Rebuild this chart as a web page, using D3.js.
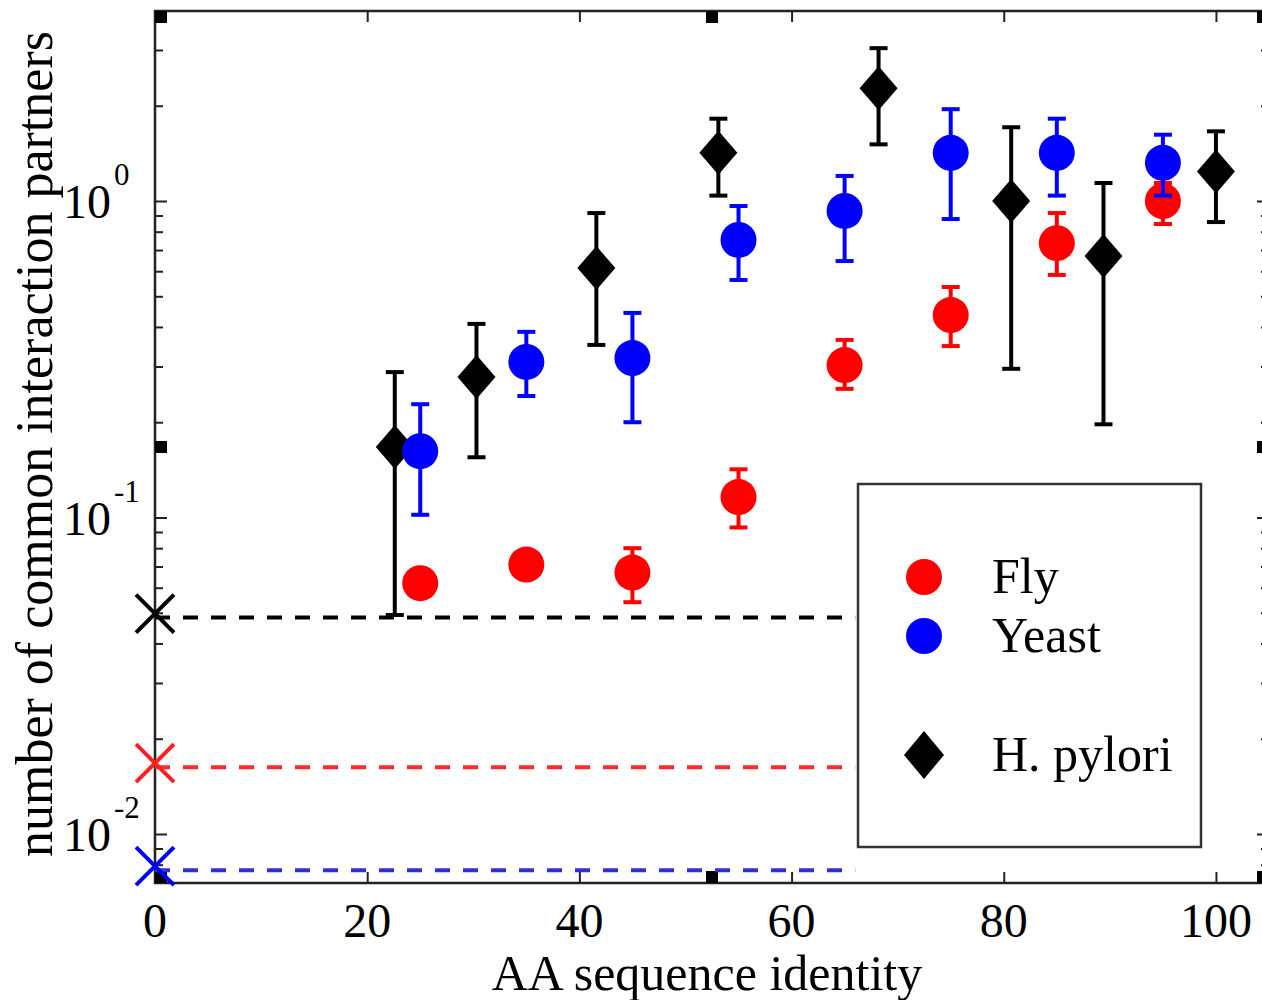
<!DOCTYPE html>
<html>
<head>
<meta charset="utf-8">
<script src="https://cdnjs.cloudflare.com/ajax/libs/d3/7.8.5/d3.min.js"></script>
<style>
  body { margin: 0; background: #fff; }
  svg text { font-family: "Liberation Serif", "DejaVu Serif", serif; fill: #000; }
</style>
</head>
<body>
<div id="chart"></div>
<script>

var xTicks = [0, 20, 40, 60, 80, 100]
var yMajor = [0.01, 0.1, 1]
var yExp = ['-2', '-1', '0']

var flyX  = [25, 35, 45, 55, 65, 75, 85, 95]
var flyY  = [0.062, 0.071, 0.067, 0.116, 0.303, 0.436, 0.736, 1.0]
var flyLo = [0.058, 0.066, 0.054, 0.093, 0.255, 0.348, 0.584, 0.846]
var flyHi = [0.067, 0.077, 0.080, 0.142, 0.364, 0.535, 0.916, 1.14]

var yeastX  = [25, 35, 45, 55, 65, 75, 85, 95]
var yeastY  = [0.162, 0.310, 0.319, 0.753, 0.930, 1.42, 1.42, 1.32]
var yeastLo = [0.102, 0.242, 0.200, 0.563, 0.646, 0.877, 1.04, 1.04]
var yeastHi = [0.228, 0.386, 0.443, 0.964, 1.20, 1.95, 1.82, 1.62]

var pyloriX  = [22.6, 30.3, 41.6, 53.1, 68.2, 80.7, 89.4, 100]
var pyloriY  = [0.167, 0.278, 0.614, 1.42, 2.27, 1.0, 0.670, 1.24]
var pyloriLo = [0.0492, 0.155, 0.351, 1.04, 1.51, 0.295, 0.197, 0.858]
var pyloriHi = [0.288, 0.409, 0.916, 1.82, 3.04, 1.71, 1.14, 1.66]

// random-pair baselines (X at 0, dashed line)
var baseNames = ['H. pylori', 'Fly', 'Yeast']
var baseY = [0.0490, 0.0165, 0.0078]
var baseEnd = 66

var legendNames = ['Fly', 'Yeast', 'H. pylori']

var width = 1262
var height = 1000

var svg = d3.select('#chart')
  .append('svg')
  .attr('width', width)
  .attr('height', height)

var x = d3.scaleLinear()
  .domain([0, 105])
  .range([155, 1269])

var y = d3.scaleLog()
  .domain([Math.pow(10, -2.1548), Math.pow(10, 0.6003)])
  .range([883, 11])

var yMinor = []
for (var k = -3; k <= 0; k++) {
  for (var m = 2; m <= 9; m++) {
    var v = m * Math.pow(10, k)
    if (v > y.domain()[0] && v < y.domain()[1]) yMinor.push(v)
  }
}

function tickAxis(axis, tx, ty, vals, size) {
  var g = svg.append('g')
    .attr('transform', 'translate(' + tx + ',' + ty + ')')
    .call(axis.tickValues(vals).tickSize(size).tickSizeOuter(0).tickFormat(''))
  g.select('.domain').remove()
  g.selectAll('line').attr('stroke', '#222').attr('stroke-width', 2)
}

// ticks on all four sides, pointing inward
tickAxis(d3.axisRight(y), x.range()[0], 0, yMajor, 12)
tickAxis(d3.axisRight(y), x.range()[0], 0, yMinor, 8)
tickAxis(d3.axisLeft(y), x.range()[1], 0, yMajor, 12)
tickAxis(d3.axisLeft(y), x.range()[1], 0, yMinor, 8)
tickAxis(d3.axisTop(x), 0, y.range()[0], xTicks, 11)
tickAxis(d3.axisBottom(x), 0, y.range()[1], xTicks, 11)

svg.append('rect')
  .attr('x', x.range()[0])
  .attr('y', y.range()[1])
  .attr('width', x.range()[1] - x.range()[0])
  .attr('height', y.range()[0] - y.range()[1])
  .attr('fill', 'none')
  .attr('stroke', '#222')
  .attr('stroke-width', 2.5)

// selection handles on the axes box
var handleFx = [0, 0.5, 1, 0, 1, 0, 0.5, 1]
var handleFy = [0, 0, 0, 0.5, 0.5, 1, 1, 1]
var hs = 12
svg.append('g').selectAll('rect')
  .data(handleFx)
  .join('rect')
  .attr('x', function(d) { return x.range()[0] + d * (x.range()[1] - x.range()[0]) - d * hs })
  .attr('y', function(d, i) { return y.range()[1] + handleFy[i] * (y.range()[0] - y.range()[1]) - handleFy[i] * hs })
  .attr('width', hs)
  .attr('height', hs)
  .attr('fill', '#000')

// tick labels
svg.append('g').selectAll('text')
  .data(xTicks)
  .join('text')
  .attr('x', function(d) { return x(d) })
  .attr('y', 937)
  .attr('text-anchor', 'middle')
  .attr('font-size', 48)
  .text(function(d) { return d })

var yl = svg.append('g').selectAll('text')
  .data(yMajor)
  .join('text')
  .attr('x', 63)
  .attr('y', function(d) { return y(d) + 17 })
  .attr('font-size', 48)
  .text('10')
yl.append('tspan')
  .attr('dy', -33)
  .attr('dx', 3)
  .attr('font-size', 31)
  .text(function(d, i) { return yExp[i] })

svg.append('text')
  .attr('x', 707)
  .attr('y', 990)
  .attr('text-anchor', 'middle')
  .attr('font-size', 50)
  .text('AA sequence identity')

svg.append('text')
  .attr('transform', 'translate(52,444) rotate(-90)')
  .attr('text-anchor', 'middle')
  .attr('font-size', 52)
  .text('number of common interaction partners')

// baselines
var baseCol = ['#000', '#ff2020', '#0000ff']
var dashCol = ['#000', '#ff2a2a', '#3030cc']
svg.append('g').selectAll('line')
  .data(baseY)
  .join('line')
  .attr('x1', x(0))
  .attr('x2', x(baseEnd))
  .attr('y1', function(d) { return y(d) + 2 })
  .attr('y2', function(d) { return y(d) + 2 })
  .attr('stroke', function(d, i) { return dashCol[i] })
  .attr('stroke-width', 4)
  .attr('stroke-dasharray', '15,13')

var xs = 19
var crosses = svg.append('g').selectAll('g')
  .data(baseY)
  .join('g')
  .attr('transform', function(d) { return 'translate(' + x(0) + ',' + (y(d) - 2) + ')' })
crosses.append('path')
  .attr('d', 'M' + (-xs) + ',' + (-xs) + 'L' + xs + ',' + xs + 'M' + (-xs) + ',' + xs + 'L' + xs + ',' + (-xs))
  .attr('stroke', function(d, i) { return baseCol[i] })
  .attr('stroke-width', 4)
  .attr('fill', 'none')

function errorBars(xv, lo, hi, col) {
  var g = svg.append('g').attr('stroke', col).attr('stroke-width', 4)
  g.selectAll('line.v')
    .data(xv)
    .join('line')
    .attr('class', 'v')
    .attr('x1', function(d) { return x(d) })
    .attr('x2', function(d) { return x(d) })
    .attr('y1', function(d, i) { return y(lo[i]) })
    .attr('y2', function(d, i) { return y(hi[i]) })
  var caps = lo.concat(hi)
  g.selectAll('line.c')
    .data(caps)
    .join('line')
    .attr('class', 'c')
    .attr('x1', function(d, i) { return x(xv[i % xv.length]) - 9 })
    .attr('x2', function(d, i) { return x(xv[i % xv.length]) + 9 })
    .attr('y1', function(d) { return y(d) })
    .attr('y2', function(d) { return y(d) })
}

function diamond(w, h) {
  return 'M0,' + (-h) + 'L' + w + ',0L0,' + h + 'L' + (-w) + ',0Z'
}

// H. pylori
errorBars(pyloriX, pyloriLo, pyloriHi, '#000')
svg.append('g').selectAll('path')
  .data(pyloriX)
  .join('path')
  .attr('transform', function(d, i) { return 'translate(' + x(d) + ',' + y(pyloriY[i]) + ')' })
  .attr('d', diamond(19, 22))
  .attr('fill', '#000')

// Fly
errorBars(flyX, flyLo, flyHi, '#ff0000')
svg.append('g').selectAll('circle')
  .data(flyX)
  .join('circle')
  .attr('cx', function(d) { return x(d) })
  .attr('cy', function(d, i) { return y(flyY[i]) })
  .attr('r', 18)
  .attr('fill', '#ff0000')

// Yeast
errorBars(yeastX, yeastLo, yeastHi, '#0000ff')
svg.append('g').selectAll('circle')
  .data(yeastX)
  .join('circle')
  .attr('cx', function(d) { return x(d) })
  .attr('cy', function(d, i) { return y(yeastY[i]) })
  .attr('r', 18)
  .attr('fill', '#0000ff')

// legend
var lg = svg.append('g').attr('transform', 'translate(858,484)')
lg.append('rect')
  .attr('width', 343)
  .attr('height', 363)
  .attr('fill', '#fff')
  .attr('stroke', '#333')
  .attr('stroke-width', 2.5)

var legY = [93, 152, 271]
var legCol = ['#ff0000', '#0000ff', '#000']
var items = lg.selectAll('g.item')
  .data(legendNames)
  .join('g')
  .attr('class', 'item')
  .attr('transform', function(d, i) { return 'translate(0,' + legY[i] + ')' })
items.each(function(d, i) {
  var it = d3.select(this)
  if (i < 2) {
    it.append('circle').attr('cx', 66).attr('cy', 0).attr('r', 18).attr('fill', legCol[i])
  } else {
    it.append('path').attr('transform', 'translate(66,0)').attr('d', diamond(20, 24)).attr('fill', legCol[i])
  }
})
items.append('text')
  .attr('x', 134)
  .attr('y', 16)
  .attr('font-size', 50)
  .text(function(d) { return d })

</script>
</body>
</html>
